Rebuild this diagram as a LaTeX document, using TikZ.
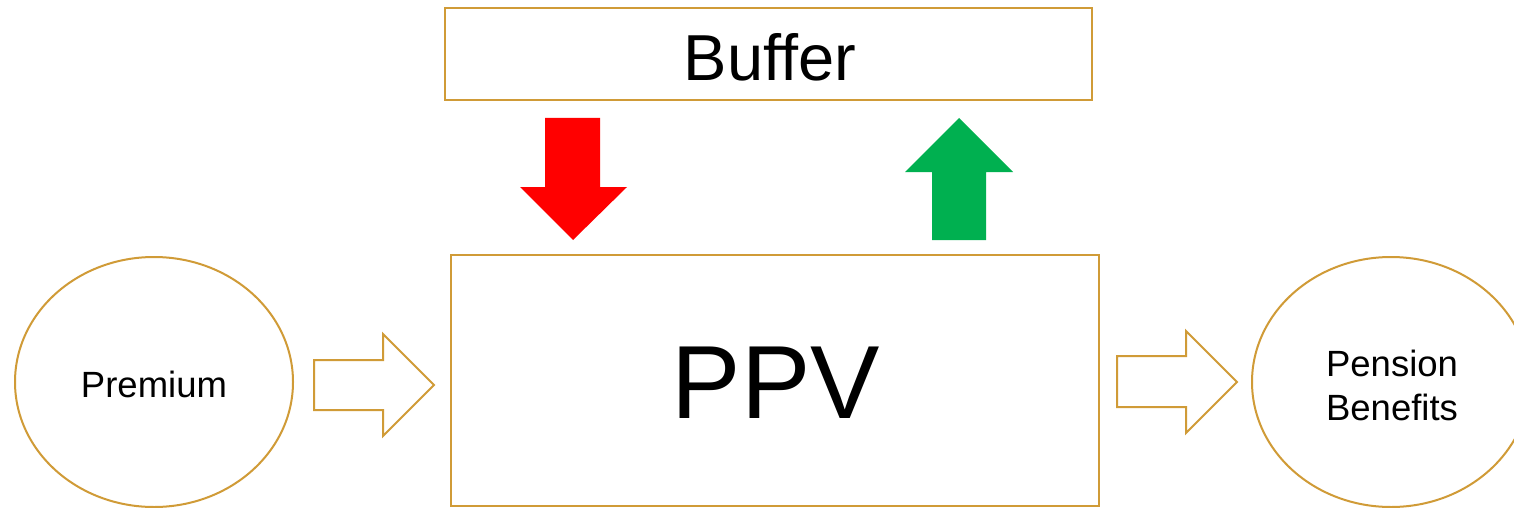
\documentclass[tikz,border=0pt]{standalone}
\usepackage{fontspec}
\setmainfont{Liberation Sans}
\usetikzlibrary{shapes.geometric}
\definecolor{gold}{RGB}{208,155,55}
\definecolor{gr}{RGB}{0,176,80}
\tikzset{
  outl/.style={draw=gold, line width=2pt, fill=white},
  blockarrow/.style={draw=gold, line width=2pt, fill=white, line join=miter},
  txt/.style={font=\fontsize{36.5}{44}\selectfont, align=center, inner sep=0pt}
}
\begin{document}
\begin{tikzpicture}[x=1pt,y=-1pt]
\useasboundingbox (0,0) rectangle (1514,508);
\clip (0,0) rectangle (1514,508);
\fill[white] (0,0) rectangle (1514,508);
% boxes
\node[outl, minimum width=647pt, minimum height=92pt, inner sep=0pt] (buffer) at (768.5,54) {};
\node[font=\fontsize{65}{70}\selectfont, inner sep=0pt] (buffertxt) at (770,57) {Buffer};
\node[outl, minimum width=648pt, minimum height=251pt, inner sep=0pt] (ppv) at (775,380.5) {};
\node[font=\fontsize{104}{110}\selectfont, inner sep=0pt] (ppvtxt) at (776,383) {PPV};
% ellipses
\node[outl, ellipse, minimum width=278pt, minimum height=250pt, inner sep=0pt] (prem) at (154,382) {};
\node[txt] (premtxt) at (154,384) {Premium};
\node[outl, ellipse, minimum width=278pt, minimum height=250pt, inner sep=0pt] (pens) at (1391,382) {};
\node[txt] (penstxt) at (1392,385) {Pension\\Benefits};
% red down arrow
\fill[red] (545,118) -- (600,118) -- (600,187) -- (627,187) -- (573,240) -- (520,187) -- (545,187) -- cycle;
% green up arrow
\fill[gr] (932,240) -- (986,240) -- (986,172) -- (1013,172) -- (959,118) -- (905,172) -- (932,172) -- cycle;
% hollow arrows
\draw[blockarrow] (314,360) -- (383,360) -- (383,334) -- (434,385) -- (383,436) -- (383,410) -- (314,410) -- cycle;
\draw[blockarrow] (1117,356) -- (1186,356) -- (1186,331) -- (1237,382) -- (1186,433) -- (1186,407) -- (1117,407) -- cycle;
\end{tikzpicture}
\end{document}
